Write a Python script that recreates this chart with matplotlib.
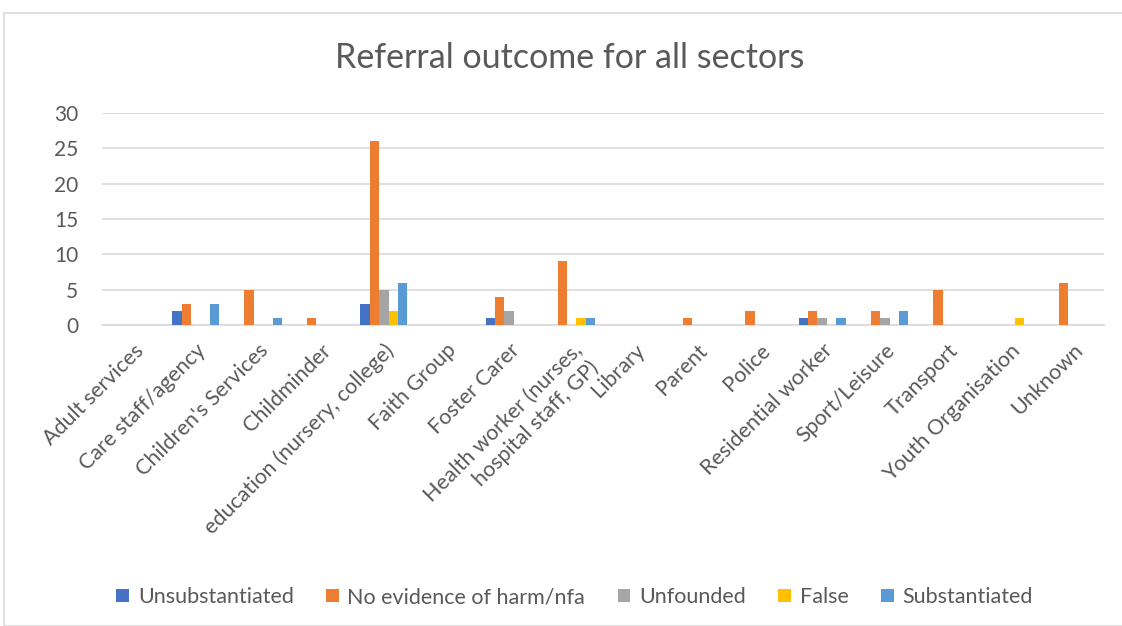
import matplotlib
matplotlib.use("Agg")
import matplotlib.pyplot as plt
import numpy as np
from matplotlib.patches import Rectangle

categories = ["Adult services", "Care staff/agency", "Children's Services", "Childminder",
              "education (nursery, college)", "Faith Group", "Foster Carer",
              "Health worker (nurses,\nhospital staff, GP)", "Library", "Parent", "Police",
              "Residential worker", "Sport/Leisure", "Transport", "Youth Organisation", "Unknown"]
series_names = ["Unsubstantiated", "No evidence of harm/nfa", "Unfounded", "False", "Substantiated"]
unsubstantiated = [0, 2, 0, 0, 3, 0, 1, 0, 0, 0, 0, 1, 0, 0, 0, 0]
no_evidence =     [0, 3, 5, 1, 26, 0, 4, 9, 0, 1, 2, 2, 2, 5, 0, 6]
unfounded =       [0, 0, 0, 0, 5, 0, 2, 0, 0, 0, 0, 1, 1, 0, 0, 0]
false_vals =      [0, 0, 0, 0, 2, 0, 0, 1, 0, 0, 0, 0, 0, 0, 1, 0]
substantiated =   [0, 3, 1, 0, 6, 0, 0, 1, 0, 0, 0, 1, 2, 0, 0, 0]
colors = ["#4472C4", "#ED7D31", "#A5A5A5", "#FFC000", "#5B9BD5"]

plt.rcParams['font.family'] = ['Lato', 'DejaVu Sans']
txt = "#595959"

fig = plt.figure(figsize=(11.22, 6.26), dpi=100)
fig.patches.append(Rectangle((4/1122, 0), 1.2, 1 - 13/626, transform=fig.transFigure,
                             fill=False, edgecolor="#d9d9d9", lw=1.2))
ax = fig.add_axes([102/1122, 1 - 325/626, (1104 - 102)/1122, (325 - 113)/626])

data = [unsubstantiated, no_evidence, unfounded, false_vals, substantiated]
x = np.arange(len(categories))
bw = 0.15
for i, (vals, name, c) in enumerate(zip(data, series_names, colors)):
    ax.bar(x + (i - 2) * bw, vals, width=bw, color=c, label=name, zorder=3)

ax.set_xlim(-0.5, len(categories) - 0.5)
ax.set_ylim(0, 30)
ax.set_yticks(range(0, 31, 5))
ax.yaxis.grid(True, color="#d9d9d9", lw=1.2, zorder=0)
for s in ["top", "right", "left"]:
    ax.spines[s].set_visible(False)
ax.spines["bottom"].set_color("#d9d9d9")
ax.spines["bottom"].set_linewidth(1.2)
ax.tick_params(axis="both", length=0, labelcolor=txt)
ax.tick_params(axis="y", pad=17, labelsize=15)
ax.set_xticks(x)
ax.set_xticklabels(categories, rotation=45, ha="right", rotation_mode="anchor", fontsize=15.5)
ax.tick_params(axis="x", pad=11)

fig.text(0.508, 1 - 58/626, "Referral outcome for all sectors", ha="center", va="center",
         fontsize=24.5, color=txt)
fig.legend(loc="center", bbox_to_anchor=(0.512, 1 - 597/626), ncol=5, frameon=False,
           fontsize=15.5, handlelength=0.6, handleheight=0.6, columnspacing=1.5,
           handletextpad=0.4, labelcolor=txt)

fig.savefig("out.png", dpi=100)
